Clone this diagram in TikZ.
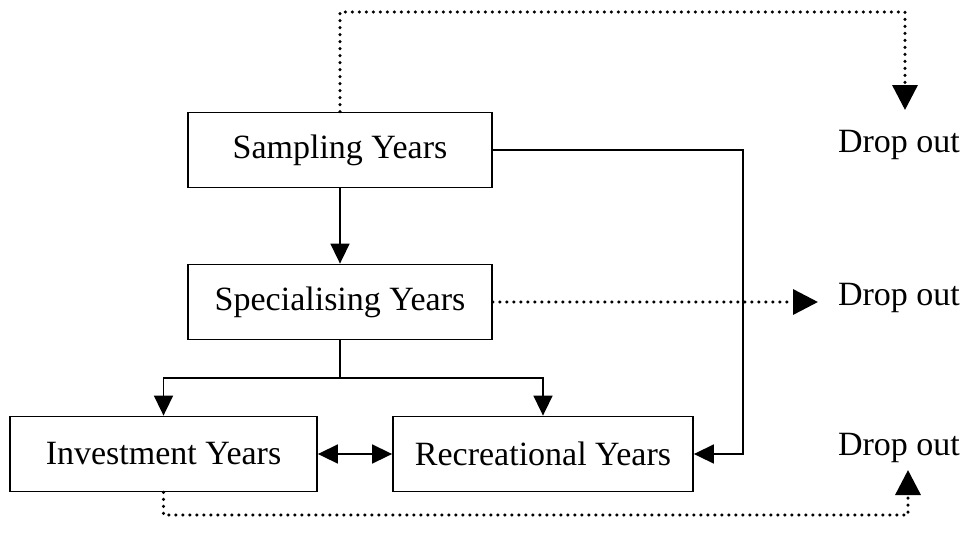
\documentclass[tikz,border=0pt]{standalone}
\usepackage{fontspec}
\setmainfont{Liberation Serif}
\usetikzlibrary{arrows.meta}
\begin{document}
\begin{tikzpicture}[x=1pt,y=-1pt,
  stagebox/.style={draw,line width=1.8pt,minimum height=75pt,inner sep=0pt,font=\fontsize{34}{40}\selectfont},
  droplabel/.style={inner sep=0pt,font=\fontsize{34}{40}\selectfont},
  conn/.style={line width=1.6pt,-{Triangle[length=20pt,width=19pt]}},
  dotconn/.style={line width=3.4pt,line cap=round,dash pattern=on 0pt off 7pt,-{Triangle[length=25pt,width=25pt]}}]
\useasboundingbox (0,0) rectangle (962,547);
\node[stagebox,minimum width=304pt] (samp) at (340,150) {Sampling Years};
\node[stagebox,minimum width=304pt] (spec) at (340,302) {Specialising Years};
\node[stagebox,minimum width=307pt] (inv) at (163.5,454) {Investment Years};
\node[stagebox,minimum width=300pt] (rec) at (543,454) {Recreational Years};
\node[droplabel] (d1) at (899,145) {Drop out};
\node[droplabel] (d2) at (899,298) {Drop out};
\node[droplabel] (d3) at (899,448) {Drop out};
\coordinate (t1) at (905,110);
\coordinate (t2) at (818,302);
\coordinate (t3) at (908,470);
\coordinate (j) at (340,378);
\draw[conn] (samp.south) -- (spec.north);
\draw[line width=1.6pt] (spec.south) -- (j);
\draw[conn] (j) -| (inv.north);
\draw[conn] (j) -| (rec.north);
\draw[conn] (samp.east) -- (743,150) |- (rec.east);
\draw[line width=1.6pt,{Triangle[length=20pt,width=19pt]}-{Triangle[length=20pt,width=19pt]}] (inv.east) -- (rec.west);
\draw[dotconn] (samp.north) -- (340,12) -| (t1);
\draw[dotconn] (spec.east) -- (t2);
\draw[dotconn] (inv.south) -- (163.5,515) -| (t3);
\end{tikzpicture}
\end{document}
